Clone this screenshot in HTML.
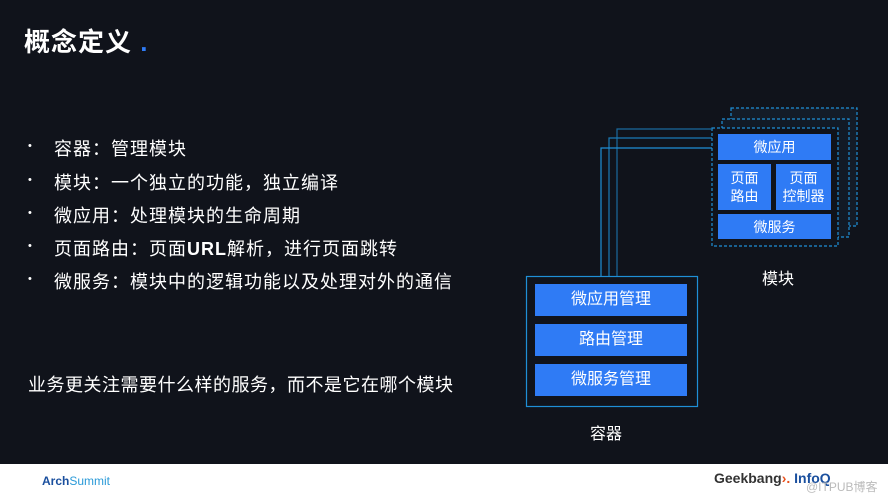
<!DOCTYPE html><html><head><meta charset="utf-8"><style>
body{margin:0;width:888px;height:500px;background:#10131b;position:relative;overflow:hidden;font-family:"Liberation Sans","Noto Sans CJK SC",sans-serif;color:#fff}
.a{position:absolute}
.b{position:absolute;background:#2f7bf5;color:#fff;display:flex;align-items:center;justify-content:center;text-align:center;font-size:14px;line-height:18px}
.li{position:absolute;left:28px;font-size:18px;letter-spacing:1px}
.li:before{content:"•";font-size:11px;position:absolute;left:0;top:5px}
.li span{margin-left:26px}
</style></head><body>
<div class="a" style="left:24px;top:22px;font-size:26px;font-weight:bold;letter-spacing:1px">概念定义 <span style="color:#2f7bf5">.</span></div>
<div class="li" style="top:135px"><span>容器：管理模块</span></div>
<div class="li" style="top:169px"><span>模块：一个独立的功能，独立编译</span></div>
<div class="li" style="top:202px"><span>微应用：处理模块的生命周期</span></div>
<div class="li" style="top:235px"><span>页面路由：页面<b>URL</b>解析，进行页面跳转</span></div>
<div class="li" style="top:268px"><span>微服务：模块中的逻辑功能以及处理对外的通信</span></div>
<div class="a" style="left:28px;top:371px;font-size:18px;letter-spacing:0.5px">业务更关注需要什么样的服务，而不是它在哪个模块</div>
<svg class="a" style="left:0;top:0" width="888" height="500">
<g fill="none" stroke="#1f8fd6" stroke-width="1.2">
<rect x="731" y="108" width="126" height="118" stroke-dasharray="3,2" fill="#141c28"/>
<rect x="722" y="119" width="127" height="118" stroke-dasharray="3,2" fill="#121a26"/>
<rect x="712" y="128" width="126" height="118" stroke-dasharray="3,2" fill="#10131b"/>
<polyline points="617,276 617,129 712,129" stroke="#1a6a9e"/>
<polyline points="609,276 609,138 712,138" stroke="#1a7ab6"/>
<polyline points="601,276 601,148 712,148"/>
<rect x="526.5" y="276.5" width="171" height="130"/>
</g></svg>
<div class="b" style="left:718px;top:134px;width:113px;height:26px">微应用</div>
<div class="b" style="left:718px;top:164px;width:53px;height:46px">页面<br>路由</div>
<div class="b" style="left:776px;top:164px;width:55px;height:46px">页面<br>控制器</div>
<div class="b" style="left:718px;top:214px;width:113px;height:25px">微服务</div>
<div class="a" style="left:762px;top:265px;font-size:16px">模块</div>
<div class="b" style="left:535px;top:284px;width:152px;height:32px;font-size:16px">微应用管理</div>
<div class="b" style="left:535px;top:324px;width:152px;height:32px;font-size:16px">路由管理</div>
<div class="b" style="left:535px;top:364px;width:152px;height:32px;font-size:16px">微服务管理</div>
<div class="a" style="left:590px;top:420px;font-size:16px">容器</div>
<div class="a" style="left:0;top:464px;width:888px;height:36px;background:#fff"></div>
<div class="a" style="left:42px;top:474px;font-size:12px;color:#1a4f9e;font-weight:bold">Arch<span style="color:#2a9ad8;font-weight:normal">Summit</span></div>
<div class="a" style="left:714px;top:470px;font-size:14px;color:#333;font-weight:bold">Geek<span>bang</span><span style="color:#e8501c">›.</span> <span style="color:#1a4f9e">InfoQ</span></div>
<div class="a" style="left:806px;top:478px;font-size:12px;color:#bbb">@ITPUB博客</div>
</body></html>
